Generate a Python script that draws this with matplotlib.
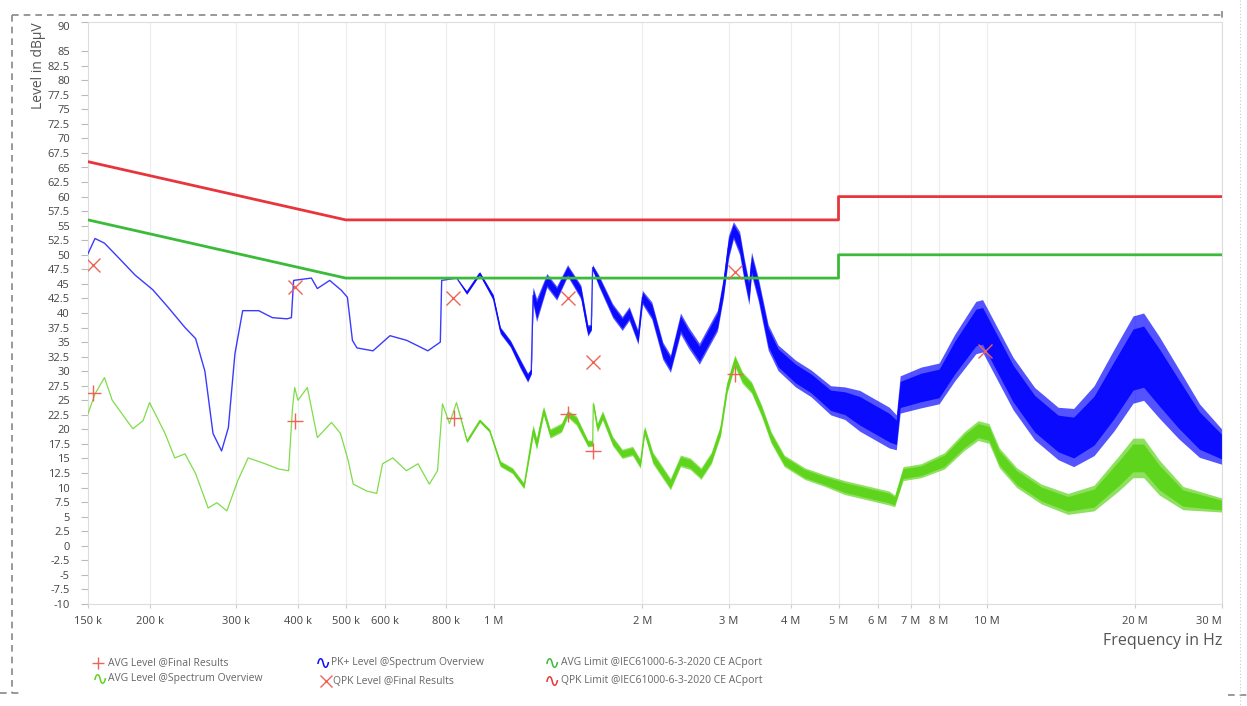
import matplotlib.pyplot as plt
import numpy as np
from matplotlib.lines import Line2D
from matplotlib.ticker import FixedLocator, NullLocator

plt.rcParams['font.family'] = ['Open Sans', 'DejaVu Sans']

W, H = 1247, 706

# PK+ level, spectrum overview (kHz, dBuV, half width of the noise band)
pk_freq = [150, 155, 162, 173, 187, 203, 218, 236, 248, 259, 269, 280, 289, 298,
           309, 333, 355, 380, 388, 392, 426, 438, 464, 490, 504, 516, 527, 568,
           615, 665, 734, 769, 778, 783, 840, 880, 935, 996, 1030, 1080, 1130,
           1170, 1190, 1200, 1220, 1280, 1340, 1410, 1500, 1550, 1575, 1585,
           1630, 1740, 1820, 1880, 1960, 2000, 2090, 2200, 2280, 2390, 2480,
           2610, 2720, 2840, 2920, 2990, 3060, 3150, 3220, 3290, 3330, 3440,
           3600, 3770, 4090, 4400, 4820, 5150, 5520, 6340, 6550, 6670, 7350,
           8000, 8600, 9500, 9800, 10500, 11300, 12500, 13950, 15000, 16500,
           18100, 19800, 20800, 22400, 24500, 27000, 30000]
pk_level = [50.2, 52.8, 52.0, 49.5, 46.5, 44.0, 41.0, 37.5, 35.6, 30.0, 19.3, 16.3,
            20.3, 33.0, 40.4, 40.4, 39.2, 39.0, 39.2, 45.6, 46.0, 44.2, 45.6, 43.9,
            42.7, 35.3, 34.0, 33.5, 36.1, 35.3, 33.5, 34.7, 35.0, 45.6, 46.0, 43.5,
            46.8, 42.7, 37.0, 34.7, 31.3, 28.9, 30.0, 43.0, 40.5, 45.6, 43.4, 47.3,
            43.6, 37.0, 37.5, 47.8, 45.6, 40.4, 38.2, 39.9, 35.8, 42.7, 40.4, 33.5,
            31.3, 38.2, 35.8, 33.0, 35.8, 38.7, 44.4, 51.3, 54.2, 52.0, 47.3, 43.4,
            48.5, 43.9, 35.8, 32.3, 29.6, 27.9, 25.0, 24.5, 23.2, 20.3, 19.5, 26.0,
            27.2, 27.9, 32.3, 37.5, 37.8, 33.0, 27.9, 22.7, 19.3, 18.6, 21.5, 26.7,
            32.0, 32.5, 28.9, 24.4, 19.8, 17.0]
pk_spread = [0] * 35 + [0.3, 0.3, 0.5, 0.6, 0.6, 0.8, 0.8, 0.5, 1.5, 2.0, 1.2, 1.2,
                        1.0, 1.2, 1.0, 0.5, 0.5, 1.0, 1.2, 1.2, 1.2, 1.2, 1.2, 1.5,
                        1.5, 1.5, 1.8, 1.8, 1.8, 1.8, 1.8, 1.8, 2.0, 1.5, 2.0, 2.0,
                        2.0, 2.0, 2.0, 2.2, 2.2, 2.3, 2.3, 2.5, 2.8, 3.5, 3.5, 3.0,
                        3.2, 3.5, 3.5, 4.0, 4.5, 4.5, 4.5, 4.5, 4.5, 4.5, 5.0, 6.0,
                        7.0, 7.5, 7.5, 7.0, 6.0, 4.6, 3.0]

# AVG level, spectrum overview
avg_freq = [150, 155, 162, 168, 185, 194, 200, 215, 225, 236, 248, 263, 274, 287,
            302, 317, 343, 365, 383, 390, 394, 400, 418, 438, 468, 488, 506, 518,
            552, 578, 594, 623, 664, 701, 739, 768, 786, 812, 839, 881, 935, 979,
            1030, 1090, 1150, 1200, 1220, 1260, 1300, 1370, 1410, 1470, 1550, 1585,
            1590, 1620, 1660, 1740, 1820, 1910, 1980, 2020, 2100, 2280, 2390, 2500,
            2630, 2760, 2880, 2970, 3080, 3190, 3330, 3490, 3650, 3880, 4270, 4690,
            5150, 6340, 6500, 6760, 7350, 8200, 9000, 9600, 10100, 10600, 11500,
            12900, 14600, 16500, 18500, 19800, 20800, 22400, 25000, 30000]
avg_level = [22.7, 26.1, 28.9, 25.0, 20.1, 21.5, 24.6, 19.3, 15.1, 15.8, 12.4, 6.5,
             7.4, 6.0, 11.2, 15.1, 14.1, 13.2, 12.9, 23.7, 27.2, 25.0, 27.2, 18.6,
             21.2, 19.3, 14.6, 10.6, 9.4, 9.0, 14.1, 15.1, 12.9, 14.1, 10.6, 12.9,
             24.4, 21.0, 24.6, 18.0, 21.5, 19.8, 14.1, 12.9, 10.3, 19.8, 17.5, 23.2,
             19.3, 20.3, 22.7, 21.5, 17.6, 17.6, 24.4, 20.3, 22.4, 18.0, 15.8, 16.3,
             14.1, 19.8, 15.1, 10.6, 14.6, 14.1, 12.4, 15.1, 19.8, 27.2, 31.8, 28.9,
             27.2, 23.2, 18.6, 14.6, 12.4, 11.2, 10.0, 8.2, 7.7, 12.4, 12.9, 14.6,
             18.0, 19.8, 19.3, 15.1, 11.7, 8.9, 7.2, 8.2, 12.4, 15.1, 15.1, 11.7,
             8.2, 7.0]
avg_spread = [0] * 39 + [0.3, 0.3, 0.3, 0.5, 0.5, 0.5, 1.0, 1.0, 0.8, 0.8, 0.8,
                         0.6, 0.8, 0.6, 0.5, 0.5, 0.8, 0.8, 0.8, 0.8, 0.8, 0.8,
                         0.8, 1.0, 1.0, 1.0, 1.0, 1.0, 1.0, 1.0, 1.0, 1.0, 1.0,
                         1.0, 1.0, 1.0, 1.0, 1.0, 1.0, 1.2, 1.2, 1.0, 1.2, 1.2,
                         1.4, 1.6, 1.7, 1.7, 1.7, 1.7, 1.7, 1.8, 2.2, 3.0, 3.4,
                         3.4, 3.0, 2.0, 1.2]

# final results
qpk_freq = [153.5, 394, 825, 1410, 1590, 3080, 9900]
qpk_level = [48.2, 44.4, 42.5, 42.5, 31.5, 47.1, 33.5]
avgres_freq = [153.5, 394, 830, 1410, 1590, 3080]
avgres_level = [26.3, 21.5, 22.0, 22.7, 16.3, 29.6]

# IEC 61000-6-3 limits
limit_freq = [150, 500, 5000, 5000, 30000]
qpk_limit = [66, 56, 56, 60, 60]
avg_limit = [56, 46, 46, 50, 50]

xtick_freq = [150e3, 200e3, 300e3, 400e3, 500e3, 600e3, 800e3, 1e6, 2e6, 3e6,
              4e6, 5e6, 6e6, 7e6, 8e6, 10e6, 20e6, 30e6]
xtick_text = ["150 k", "200 k", "300 k", "400 k", "500 k", "600 k", "800 k", "1 M",
              "2 M", "3 M", "4 M", "5 M", "6 M", "7 M", "8 M", "10 M", "20 M", "30 M"]
ytick_vals = [v for v in np.arange(-10, 90.1, 2.5) if v != 87.5]

BLUE = '#0a0aff'
GREEN = '#5fd41c'
RED_LIM = '#e8353c'
GREEN_LIM = '#3cba3a'
MARK = '#ee6455'


def px(x, y):
    return x / W, 1 - y / H


def trace(ax, freq_k, level, spread, color, lw):
    f = np.array(freq_k) * 1e3
    lv = np.array(level)
    sp = np.array(spread)
    # ragged outer edge of the noise band, then its dense core
    ax.fill_between(f, lv - sp, lv + sp, color=color, lw=0, alpha=0.7, zorder=2)
    ax.fill_between(f, lv - 0.7 * sp, lv + 0.7 * sp, color=color, lw=0,
                    alpha=1.0, zorder=2)
    ax.plot(f, lv, color=color, lw=lw, alpha=0.8, zorder=3)


fig = plt.figure(figsize=(W / 100, H / 100), dpi=100)
ax = fig.add_axes([88 / W, 1 - 604 / H, (1222 - 88) / W, (604 - 22) / H])

trace(ax, pk_freq, pk_level, pk_spread, BLUE, 1.0)
trace(ax, avg_freq, avg_level, avg_spread, GREEN, 0.9)

lf = np.array(limit_freq) * 1e3
ax.plot(lf, qpk_limit, color=RED_LIM, lw=2.0, zorder=4)
ax.plot(lf, avg_limit, color=GREEN_LIM, lw=2.0, zorder=4)

ax.plot(np.array(qpk_freq) * 1e3, qpk_level, 'x', color=MARK, ms=10, mew=1.0, zorder=5)
ax.plot(np.array(avgres_freq) * 1e3, avgres_level, '+', color=MARK, ms=11, mew=1.0, zorder=5)

ax.set_xscale('log')
ax.set_xlim(150e3, 30e6)
ax.set_ylim(-10, 90)
ax.xaxis.set_major_locator(FixedLocator(xtick_freq))
ax.xaxis.set_minor_locator(NullLocator())
ax.set_xticklabels(xtick_text)
ax.set_yticks(ytick_vals)
ax.set_yticklabels(['%g' % v for v in ytick_vals])
ax.yaxis.set_minor_locator(FixedLocator(np.arange(-10, 90.1, 5)))

ax.grid(axis='x', which='major', color='#ececec', lw=0.8)
ax.grid(axis='y', which='minor', color='#ececec', lw=0.8)
ax.set_axisbelow(True)
ax.tick_params(axis='y', which='major', length=5, width=0.8, color='#bbbbbb',
               pad=8, labelsize=8, labelcolor='#444444')
ax.tick_params(axis='y', which='minor', length=0)
ax.tick_params(axis='x', length=3, width=0.8, color='#cccccc', pad=6,
               labelsize=8, labelcolor='#444444')
for sp in ax.spines.values():
    sp.set_color('#dddddd')
    sp.set_linewidth(0.8)

for lbl in ax.get_yticklabels():
    if lbl.get_text() == '90':
        lbl.set_verticalalignment('top')
for lbl in ax.get_xticklabels():
    if lbl.get_text() == '30 M':
        lbl.set_horizontalalignment('right')

fig.text(*px(1222, 641), 'Frequency in Hz', ha='right', va='center',
         fontsize=11.5, color='#555555')
fig.text(*px(38, 22), 'Level in dBμV', rotation=90, ha='center', va='top',
         fontsize=10, color='#555555')

# legend rows
legend_items = [
    (98, 663, '+', MARK, 108, 'AVG Level @Final Results'),
    (100, 679, 'wave', GREEN, 108, 'AVG Level @Spectrum Overview'),
    (323, 663, 'wave', BLUE, 331, 'PK+ Level @Spectrum Overview'),
    (326, 681, 'x', MARK, 333, 'QPK Level @Final Results'),
    (552, 663, 'wave', GREEN_LIM, 561, 'AVG Limit @IEC61000-6-3-2020 CE ACport'),
    (552, 681, 'wave', RED_LIM, 561, 'QPK Limit @IEC61000-6-3-2020 CE ACport'),
]
for hx, hy, kind, col, tx, txt in legend_items:
    if kind == 'wave':
        fig.text(*px(hx, hy), '∿', family='DejaVu Sans', fontsize=14, color=col,
                 ha='center', va='center')
    else:
        fig.add_artist(Line2D([hx / W], [1 - hy / H], marker=kind, color=col, ms=8,
                              mew=1.0, transform=fig.transFigure))
    fig.text(*px(tx, hy), txt, ha='left', va='center', fontsize=7.5, color='#666666')

# dashed frame around the chart
frame = dict(color='#888888', lw=1.2, ls=(0, (4, 3)), transform=fig.transFigure)
for (x0, y0), (x1, y1) in [((12, 15), (1222, 15)), ((12, 15), (12, 693)),
                           ((1222, 11), (1222, 20)), ((0, 693), (22, 693)),
                           ((1228, 695), (1247, 695))]:
    a, b = px(x0, y0)
    c, d = px(x1, y1)
    fig.add_artist(Line2D([a, c], [b, d], **frame))
a, b = px(1240, 0)
c, d = px(1240, 706)
fig.add_artist(Line2D([a, c], [b, d], color='#cccccc', lw=0.8, ls=(0, (1, 2)),
                      transform=fig.transFigure))

fig.savefig('out.png', dpi=100)
